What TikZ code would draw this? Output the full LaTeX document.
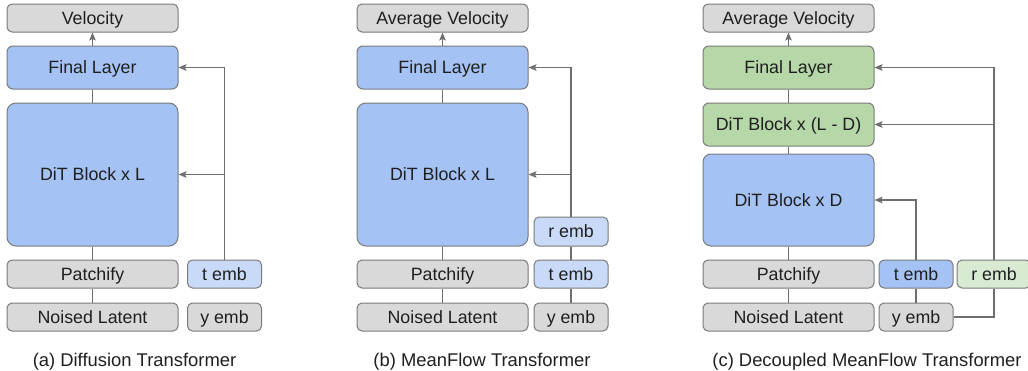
\documentclass[tikz,border=0pt]{standalone}
\usepackage{fontspec}
\setmainfont{Liberation Sans}
\usetikzlibrary{arrows.meta}
\definecolor{boxgray}{HTML}{D9D9D9}
\definecolor{edgegray}{HTML}{7A7A7A}
\definecolor{wiregray}{HTML}{6E6E6E}
\definecolor{ditblue}{HTML}{A4C2F4}
\definecolor{embblue}{HTML}{C9DAF8}
\definecolor{ditgreen}{HTML}{B6D7A8}
\definecolor{embgreen}{HTML}{D9EAD3}
\definecolor{ink}{HTML}{1F1F1F}
\tikzset{
  box/.style={draw=edgegray, line width=1pt, rounded corners=5pt, inner sep=0pt,
    text=ink, font=\fontsize{17.8}{20}\selectfont, text height=12.6pt, text depth=0pt,
    minimum height=28pt},
  wide/.style={box, minimum width=171pt},
  emb/.style={box, minimum width=74pt},
  grayb/.style={fill=boxgray},
  blueb/.style={fill=ditblue},
  lblueb/.style={fill=embblue},
  greenb/.style={fill=ditgreen},
  lgreenb/.style={fill=embgreen},
  wire/.style={draw=wiregray, line width=1.3pt},
  feed/.style={wire, -{Stealth[length=8pt,width=6.5pt,inset=1.5pt]}},
  caption/.style={inner sep=0pt, text=ink, font=\fontsize{18.4}{21}\selectfont, anchor=base}
}
\begin{document}
\begin{tikzpicture}[x=1pt, y=-1pt]
\clip (0,0) rectangle (1028,370);

% (a) Diffusion Transformer
\node[wide, grayb] (a-vel) at (92.5,18) {Velocity};
\node[wide, blueb, minimum height=43pt, rounded corners=6pt] (a-fin) at (92.5,67.5) {Final Layer};
\node[wide, blueb, minimum height=143pt, rounded corners=9pt] (a-dit) at (92.5,174.5) {DiT Block x L};
\node[wide, grayb] (a-pat) at (92.5,274) {Patchify};
\node[wide, grayb] (a-lat) at (92.5,317) {Noised Latent};
\node[emb, lblueb] (a-t) at (224.5,274) {t emb};
\node[emb, grayb] (a-y) at (224.5,317) {y emb};
\draw[feed] (a-fin.north) -- (a-vel.south);
\draw[wire] (a-dit.north) -- (a-fin.south);
\draw[wire] (a-pat.north) -- (a-dit.south);
\draw[wire] (a-lat.north) -- (a-pat.south);
\draw[feed] (a-t.north) |- (a-fin.east);
\draw[feed] (a-t.north) |- (a-dit.east);
\node[caption] (a-cap) at (134.5,366.5) {(a) Diffusion Transformer};

% (b) MeanFlow Transformer
\node[wide, grayb] (b-vel) at (442.5,18) {Average Velocity};
\node[wide, blueb, minimum height=43pt, rounded corners=6pt] (b-fin) at (442.5,67.5) {Final Layer};
\node[wide, blueb, minimum height=143pt, rounded corners=9pt] (b-dit) at (442.5,174.5) {DiT Block x L};
\node[wide, grayb] (b-pat) at (442.5,274) {Patchify};
\node[wide, grayb] (b-lat) at (442.5,317) {Noised Latent};
\node[emb, lblueb, minimum height=29pt] (b-r) at (571,231.5) {r emb};
\node[emb, lblueb] (b-t) at (571,274) {t emb};
\node[emb, grayb] (b-y) at (571,317) {y emb};
\draw[feed] (b-fin.north) -- (b-vel.south);
\draw[wire] (b-dit.north) -- (b-fin.south);
\draw[wire] (b-pat.north) -- (b-dit.south);
\draw[wire] (b-lat.north) -- (b-pat.south);
\draw[wire] (b-y.north) -- (b-t.south);
\draw[wire] (b-t.north) -- (b-r.south);
\draw[feed] (b-r.north) |- (b-fin.east);
\draw[feed] (b-r.north) |- (b-dit.east);
\node[caption] (b-cap) at (482,366.5) {(b) MeanFlow Transformer};

% (c) Decoupled MeanFlow Transformer
\node[wide, grayb] (c-vel) at (788.5,18) {Average Velocity};
\node[wide, greenb, minimum height=43pt, rounded corners=6pt] (c-fin) at (788.5,67.5) {Final Layer};
\node[wide, greenb, minimum height=43pt, rounded corners=6pt] (c-dl) at (788.5,124.5) {DiT Block x (L - D)};
\node[wide, blueb, minimum height=92pt, rounded corners=8pt] (c-d) at (788.5,200) {DiT Block x D};
\node[wide, grayb] (c-pat) at (788.5,274) {Patchify};
\node[wide, grayb] (c-lat) at (788.5,317) {Noised Latent};
\node[emb, blueb] (c-t) at (916,274) {t emb};
\node[emb, grayb] (c-y) at (916,317) {y emb};
\node[emb, lgreenb] (c-r) at (994,274) {r emb};
\draw[feed] (c-fin.north) -- (c-vel.south);
\draw[wire] (c-dl.north) -- (c-fin.south);
\draw[wire] (c-d.north) -- (c-dl.south);
\draw[wire] (c-pat.north) -- (c-d.south);
\draw[wire] (c-lat.north) -- (c-pat.south);
\draw[wire] (c-y.north) -- (c-t.south);
\draw[feed] (c-t.north) |- (c-d.east);
\draw[wire] (c-y.east) -| (c-r.south);
\draw[feed] (c-r.north) |- (c-fin.east);
\draw[feed] (c-r.north) |- (c-dl.east);
\node[caption] (c-cap) at (867,366.5) {(c) Decoupled MeanFlow Transformer};
\end{tikzpicture}
\end{document}
